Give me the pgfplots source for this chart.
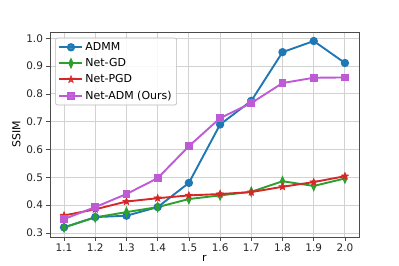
\documentclass[border=0pt]{standalone}
\usepackage{fontspec}
\setmainfont{DejaVu Sans}
\usepackage{pgfplots}
\pgfplotsset{compat=1.18}
\definecolor{cA}{HTML}{1F77B4}
\definecolor{cG}{HTML}{2CA02C}
\definecolor{cP}{HTML}{D62728}
\definecolor{cM}{HTML}{BF5AD6}
\pgfdeclareplotmark{fstar}{%
 \pgfpathmoveto{\pgfpointpolar{90}{1.3\pgfplotmarksize}}%
 \pgfpathlineto{\pgfpointpolar{126}{0.55\pgfplotmarksize}}%
 \pgfpathlineto{\pgfpointpolar{162}{1.3\pgfplotmarksize}}%
 \pgfpathlineto{\pgfpointpolar{198}{0.55\pgfplotmarksize}}%
 \pgfpathlineto{\pgfpointpolar{234}{1.3\pgfplotmarksize}}%
 \pgfpathlineto{\pgfpointpolar{270}{0.55\pgfplotmarksize}}%
 \pgfpathlineto{\pgfpointpolar{306}{1.3\pgfplotmarksize}}%
 \pgfpathlineto{\pgfpointpolar{342}{0.55\pgfplotmarksize}}%
 \pgfpathlineto{\pgfpointpolar{18}{1.3\pgfplotmarksize}}%
 \pgfpathlineto{\pgfpointpolar{54}{0.55\pgfplotmarksize}}%
 \pgfpathclose\pgfusepathqfillstroke}
\begin{document}
\begin{tikzpicture}
\begin{axis}[
  scale only axis, width=309bp, height=205bp,
  xmin=1.055, xmax=2.045, ymin=0.2855, ymax=1.0225,
  xtick={1.1,1.2,...,2.0}, ytick={0.3,0.4,...,1.0},
  /pgf/number format/assume math mode=true,
  xticklabel style={/pgf/number format/.cd,fixed,fixed zerofill,precision=1},
  yticklabel style={/pgf/number format/.cd,fixed,fixed zerofill,precision=1},
  ticklabel style={font=\fontsize{10.5}{12}\selectfont, text=black!85},
  label style={font=\fontsize{11}{13}\selectfont},
  xlabel={r}, ylabel={SSIM},
  xlabel style={yshift=3bp},
  ylabel style={yshift=-1bp},
  grid=major, major grid style={line width=0.9pt, gray!35},
  axis line style={black!70, line width=0.8pt},
  tick align=outside, tick pos=left, major tick length=3.5bp,
  tick style={black!70, line width=0.6pt},
  every axis plot/.append style={line width=1.9pt},
  legend style={at={(0.017,0.972)}, anchor=north west, draw=gray!55, line width=0.6pt, rounded corners=2pt,
    fill=white, fill opacity=0.85, text opacity=1, font=\fontsize{11}{13}\selectfont,
    row sep=2.5bp, inner xsep=3bp, inner ysep=2.5bp},
  legend cell align=left,
  legend image code/.code={\draw[mark repeat=2,mark phase=2] plot coordinates {(0bp,0bp) (11.5bp,0bp) (23bp,0bp)};},
]
\addplot[cA, mark=*, mark size=3.2pt, mark options={solid}] coordinates {
(1.1,0.320) (1.2,0.357) (1.3,0.362) (1.4,0.393) (1.5,0.480) (1.6,0.690) (1.7,0.775) (1.8,0.950) (1.9,0.990) (2.0,0.911)};
\addlegendentry{ADMM}
\addplot[cG, mark=diamond*, mark size=3.6pt, mark options={xscale=0.6}] coordinates {
(1.1,0.320) (1.2,0.356) (1.3,0.375) (1.4,0.393) (1.5,0.422) (1.6,0.435) (1.7,0.448) (1.8,0.486) (1.9,0.469) (2.0,0.496)};
\addlegendentry{Net-GD}
\addplot[cP, mark=fstar, mark size=3pt, mark options={line width=0.5pt}] coordinates {
(1.1,0.363) (1.2,0.385) (1.3,0.413) (1.4,0.425) (1.5,0.435) (1.6,0.440) (1.7,0.447) (1.8,0.466) (1.9,0.483) (2.0,0.504)};
\addlegendentry{Net-PGD}
\addplot[cM, mark=square*, mark size=3pt] coordinates {
(1.1,0.350) (1.2,0.393) (1.3,0.440) (1.4,0.497) (1.5,0.612) (1.6,0.713) (1.7,0.767) (1.8,0.839) (1.9,0.858) (2.0,0.859)};
\addlegendentry{Net-ADM (Ours)}
\end{axis}
\pgfresetboundingbox
\path (current axis.south west) ++(-50bp,-29bp) rectangle ++(399bp,266bp);
\end{tikzpicture}
\end{document}
